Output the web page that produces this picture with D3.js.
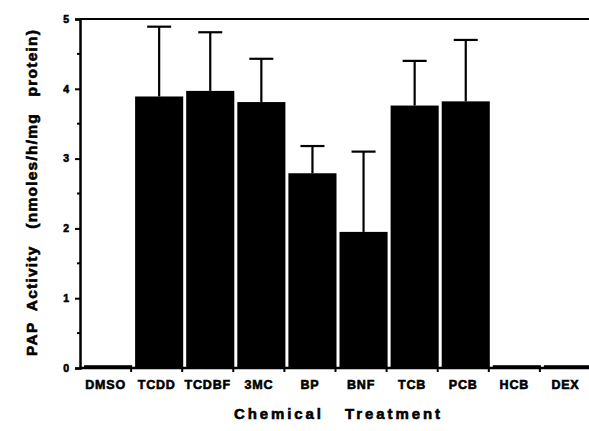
<!DOCTYPE html>
<html><head><meta charset="utf-8">
<script src="https://cdn.jsdelivr.net/npm/d3@7"></script>
<style>body{margin:0;background:#fff}svg text{font-family:"Liberation Sans",Arial,sans-serif;font-weight:bold;fill:#000;stroke:#000;stroke-width:0.6px}</style>
</head><body><svg id="c" width="589" height="431"></svg>
<script>
const categories = ["DMSO","TCDD","TCDBF","3MC","BP","BNF","TCB","PCB","HCB","DEX"];
const means = [0.04,3.89,3.97,3.81,2.79,1.95,3.76,3.82,0.04,0.04];
const errorTops = [null,4.89,4.81,4.43,3.18,3.10,4.40,4.70,null,null];
const yTicks = [0,1,2,3,4,5];
const yMinorTicks = [0.5,1.5,2.5,3.5,4.5];

const svg = d3.select("#c");
const x0 = 80, x1 = 591, yTop = 19, yBot = 368;
const x = d3.scaleBand().domain(categories).range([x0, x1]).paddingInner(0).paddingOuter(0);
const y = d3.scaleLinear().domain([0,5]).range([yBot, yTop]);

// bars
const bw = x.bandwidth();
svg.append("g").selectAll("rect").data(categories).join("rect")
  .attr("x", d => x(d) + 4).attr("width", bw - 3)
  .attr("y", (d,i) => y(means[i])).attr("height", (d,i) => y(0) - y(means[i]))
  .attr("fill", "#000");

// error bars
const eb = svg.append("g").attr("stroke","#000");
categories.forEach((c,i) => {
  if (errorTops[i] == null) return;
  const cx = x(c) + 4 + (bw - 3) / 2;
  eb.append("line").attr("x1",cx).attr("x2",cx).attr("y1",y(means[i])).attr("y2",y(errorTops[i])).attr("stroke-width",2.2);
  eb.append("line").attr("x1",cx-12).attr("x2",cx+12).attr("y1",y(errorTops[i])).attr("y2",y(errorTops[i])).attr("stroke-width",2.2);
});

// top frame line
svg.append("line").attr("x1",x0).attr("x2",589).attr("y1",y(5)).attr("y2",y(5)).attr("stroke","#000").attr("stroke-width",2);

// y axis
const ya = svg.append("g").attr("transform",`translate(${x0},0)`)
  .call(d3.axisLeft(y).tickValues(yTicks).tickFormat(d3.format("d")).tickSize(5).tickPadding(6));
ya.select(".domain").attr("stroke-width",2.5);
ya.selectAll(".tick line").attr("stroke-width",2);
ya.selectAll("text").style("font-size","10.5px").style("font-weight","bold").style("font-family","'Liberation Sans',Arial,sans-serif");
svg.append("g").selectAll("line").data(yMinorTicks).join("line")
  .attr("x1",x0-3).attr("x2",x0).attr("y1",d=>y(d)).attr("y2",d=>y(d)).attr("stroke","#000").attr("stroke-width",2);

// x axis
const xa = svg.append("g").attr("transform",`translate(0,${yBot})`)
  .call(d3.axisBottom(x).tickSize(0).tickPadding(12));
xa.select(".domain").attr("stroke-width",2.5).attr("d",`M${x0},0H589`);
xa.selectAll("text").style("font-size","12.5px").style("font-weight","bold").style("letter-spacing","0.8px").style("font-family","'Liberation Sans',Arial,sans-serif");
svg.append("g").selectAll("line").data(categories.slice(1)).join("line")
  .attr("x1",d=>x(d)).attr("x2",d=>x(d)).attr("y1",yBot).attr("y2",yBot+4).attr("stroke","#000").attr("stroke-width",2);

// titles
svg.append("text").attr("x",337).attr("y",419).attr("text-anchor","middle")
  .style("font-size","15px").attr("xml:space","preserve")
  .attr("textLength",206).attr("lengthAdjust","spacing")
  .text("Chemical   Treatment");
svg.append("text").attr("transform","translate(37,193) rotate(-90)").attr("text-anchor","middle")
  .style("font-size","15.5px").attr("xml:space","preserve")
  .attr("textLength",326).attr("lengthAdjust","spacing")
  .text("PAP  Activity   (nmoles/h/mg   protein)");
</script></body></html>
